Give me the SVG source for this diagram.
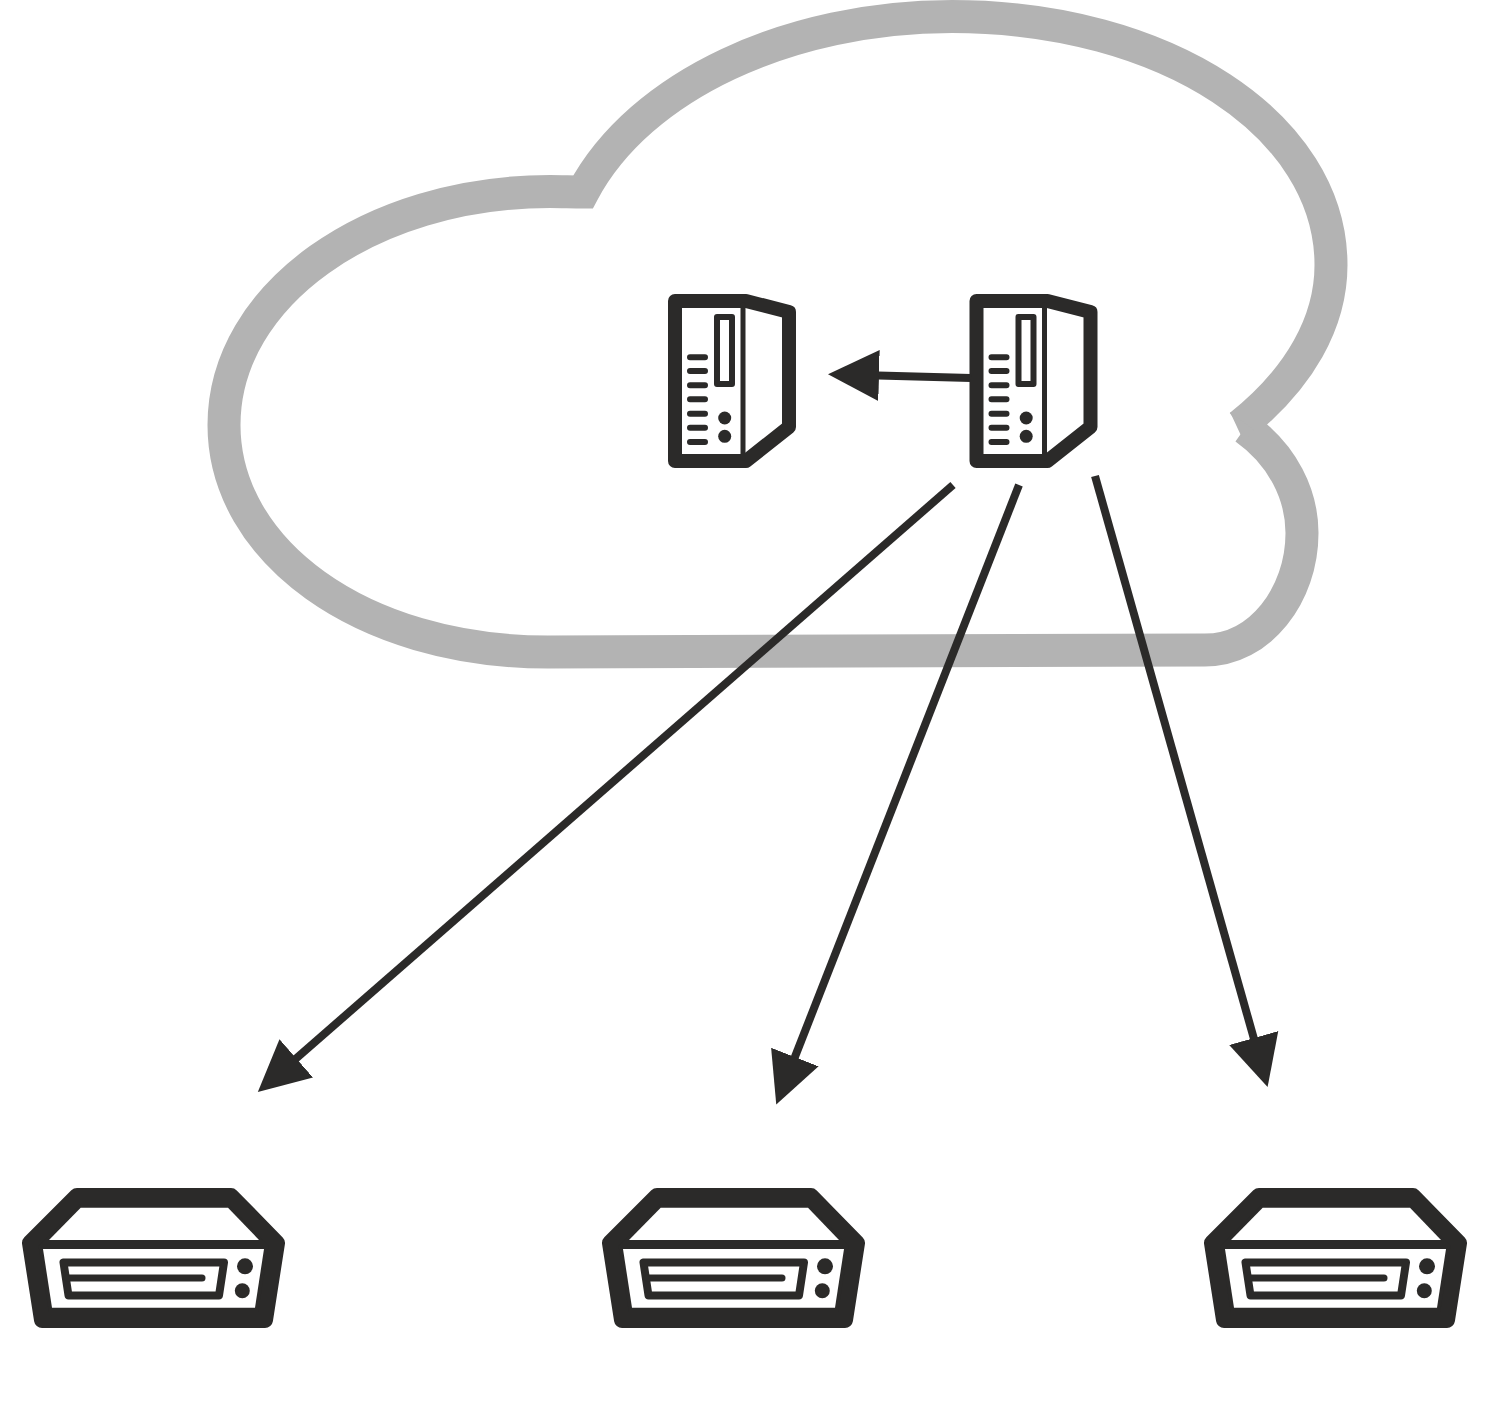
<svg xmlns="http://www.w3.org/2000/svg" width="1490" height="1412" viewBox="0 0 1490 1412">
  <style>
    .cloud { fill: none; stroke: #b3b3b3; stroke-width: 33; stroke-linejoin: miter; stroke-miterlimit: 10; }
    .ink { fill: #2b2a29; }
    .outline { fill: #fff; stroke: #2b2a29; stroke-linejoin: round; }
    .bar { stroke: #2b2a29; stroke-linecap: round; fill: none; }
    .link { stroke: #2b2a29; stroke-width: 8; fill: none; marker-end: url(#head); }
  </style>
  <defs>
    <marker id="head" markerUnits="userSpaceOnUse" viewBox="0 -26 51 52" refX="1" refY="0" markerWidth="51" markerHeight="52" orient="auto">
      <path class="ink" d="M0,-25.5 L51,0 L0,25.5 Z"/>
    </marker>
    <!-- Tower server: case, side panel, drive slot, vents, two buttons -->
    <g id="server">
      <path class="outline" stroke-width="14" d="M675,301 H746 L789,312 V427 L746,461 H675 Z"/>
      <path class="bar" stroke-width="5" stroke-linecap="butt" d="M743,305 V458"/>
      <rect class="outline" x="717" y="317" width="15" height="67" stroke-width="6"/>
      <path class="bar" stroke-width="6" d="M690,357.3 H705 M690,371 H705 M690,385.3 H705 M690,399.3 H705 M690,413.7 H705 M690,427.7 H705 M690,442 H705"/>
      <circle class="ink" cx="724.7" cy="418" r="6.5"/>
      <circle class="ink" cx="724.7" cy="436.3" r="6.5"/>
    </g>
    <!-- Desktop unit: top face, front face, disc slot, two buttons -->
    <g id="unit">
      <path class="ink" stroke="#2b2a29" stroke-width="16" stroke-linejoin="round" d="M77,1196 H231 L277,1243 L265,1320 H42 L30,1243 Z"/>
      <path fill="#fff" d="M80.7,1207.7 H228 L259,1240 H49 Z"/>
      <path fill="#fff" d="M43,1249 H264 L255,1307.7 H52 Z"/>
      <path class="outline" stroke-width="8" d="M63.5,1262.5 H224 L219,1295.5 H68.5 Z"/>
      <path class="bar" stroke-width="7" d="M68,1278 H202"/>
      <circle class="ink" cx="245" cy="1266.3" r="8"/>
      <circle class="ink" cx="242.3" cy="1290.7" r="7.5"/>
    </g>
  </defs>
  <rect width="1490" height="1412" fill="#fff"/>
  <g id="cloud-shape">
    <path class="cloud" d="M1245,428 C1283,455 1302,495 1302,533 C1302,595 1260,650 1205,650 L548,652 C360,652 224,550 224,425 C224,295 370,191.5 550,191.5 C562,191.5 572,192 583,192 C640,85 790,16.5 952,16.5 C1165,16.5 1331,125 1331,265 C1331,322 1300,378 1240,426"/>
    <path fill="#b3b3b3" d="M1230,412 L1244,442 L1254,430 Z"/>
  </g>
  <g id="server-a"><use href="#server"/></g>
  <g id="server-b"><use href="#server" transform="translate(301.5,0)"/></g>
  <g id="unit-a"><use href="#unit"/></g>
  <g id="unit-b"><use href="#unit" transform="translate(580,0)"/></g>
  <g id="unit-c"><use href="#unit" transform="translate(1182,0)"/></g>
  <g id="connectors">
    <path class="link" d="M971,378 L878,375.5"/>
    <path class="link" d="M953,485 L295.5,1059"/>
    <path class="link" d="M1019,485 L794.5,1058"/>
    <path class="link" d="M1095,476 L1254,1039"/>
  </g>
</svg>
